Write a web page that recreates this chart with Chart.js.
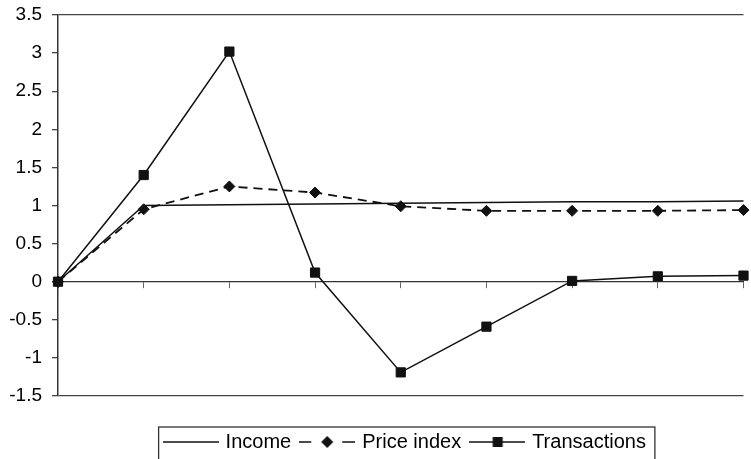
<!DOCTYPE html>
<html>
<head>
<meta charset="utf-8">
<script src="https://cdn.jsdelivr.net/npm/chart.js@4"></script>
<style>
  html, body { margin: 0; padding: 0; background: #fff; }
</style>
</head>
<body>
<canvas id="chart" width="751" height="459"></canvas>
<script>
// periods after the shock (no labels shown on the axis)
const periods = ['0', '1', '2', '3', '4', '5', '6', '7', '8'];
const income = [0, 1.0, 1.01, 1.02, 1.03, 1.04, 1.05, 1.05, 1.06];
const priceIndex = [0, 0.95, 1.25, 1.17, 0.99, 0.93, 0.93, 0.93, 0.94];
const transactions = [0, 1.4, 3.02, 0.12, -1.19, -0.59, 0.01, 0.07, 0.08];
const yTicks = [-1.5, -1, -0.5, 0, 0.5, 1, 1.5, 2, 2.5, 3, 3.5];

const ink = '#111';
const fontFamily = '"Liberation Sans", Arial, sans-serif';

// little line+marker pictures for the legend
function legendSymbol(kind) {
    const c = document.createElement('canvas');
    c.width = 56;
    c.height = 14;
    const g = c.getContext('2d');
    g.strokeStyle = ink;
    g.fillStyle = ink;
    g.lineWidth = 1.5;
    const y = 7;
    g.beginPath();
    if (kind === 'price') {
        g.moveTo(0, y); g.lineTo(12, y);
        g.moveTo(43, y); g.lineTo(56, y);
    } else {
        g.moveTo(0, y); g.lineTo(56, y);
    }
    g.stroke();
    if (kind === 'price') {
        g.beginPath();
        g.moveTo(28, y - 6); g.lineTo(34, y); g.lineTo(28, y + 6); g.lineTo(22, y);
        g.closePath();
        g.fill();
    }
    if (kind === 'trans') {
        g.fillRect(23.5, y - 5, 10, 10);
    }
    return c;
}

const symbols = [legendSymbol('income'), legendSymbol('price'), legendSymbol('trans')];

const legendFrame = {
    id: 'legendFrame',
    afterLayout(chart) {
        // the legend sits a little right of centre in the original
        if (chart.legend) {
            chart.legend.left += 5;
            chart.legend.right += 5;
        }
    },
    afterDraw(chart) {
        const boxes = chart.legend && chart.legend.legendHitBoxes;
        if (!boxes || !boxes.length) return;
        const first = boxes[0];
        const last = boxes[boxes.length - 1];
        const ctx = chart.ctx;
        const left = first.left - 7;
        const right = last.left + last.width + 9;
        const top = first.top - 5;
        const bottom = first.top + first.height + 9;
        ctx.save();
        ctx.strokeStyle = '#333';
        ctx.lineWidth = 1.3;
        ctx.strokeRect(left, top, right - left, bottom - top);
        ctx.restore();
    }
};

new Chart(document.getElementById('chart'), {
    type: 'line',
    data: {
        labels: periods,
        datasets: [{
            label: 'Income',
            data: income,
            borderColor: ink,
            borderWidth: 1.5,
            pointRadius: 0,
            tension: 0
        }, {
            label: 'Price index',
            data: priceIndex,
            borderColor: ink,
            borderWidth: 1.8,
            borderDash: [9, 6],
            pointStyle: 'rectRot',
            pointRadius: 5.5,
            pointBackgroundColor: ink,
            pointBorderColor: ink,
            pointBorderWidth: 1,
            tension: 0
        }, {
            label: 'Transactions',
            data: transactions,
            borderColor: ink,
            borderWidth: 1.5,
            pointStyle: 'rect',
            pointRadius: 6.5,
            pointBackgroundColor: ink,
            pointBorderColor: ink,
            pointBorderWidth: 1,
            tension: 0
        }]
    },
    options: {
        responsive: false,
        animation: false,
        layout: { padding: { top: 15, right: 0, bottom: -3, left: 0 } },
        plugins: {
            tooltip: { enabled: false },
            legend: {
                position: 'bottom',
                fullSize: false,
                align: 'center',
                labels: {
                    usePointStyle: true,
                    pointStyleWidth: 50,
                    padding: 11,
                    color: '#000',
                    font: { family: fontFamily, size: 20 },
                    generateLabels: chart => chart.data.datasets.map((ds, i) => ({
                        text: ds.label,
                        pointStyle: symbols[i],
                        fillStyle: ink,
                        strokeStyle: ink,
                        lineWidth: 0,
                        fontColor: '#000',
                        hidden: false,
                        datasetIndex: i
                    }))
                }
            }
        },
        scales: {
            x: {
                type: 'category',
                position: { y: 0 },
                offset: false,
                ticks: { display: false },
                grid: { display: true, drawOnChartArea: false, drawTicks: true, tickLength: 6, color: '#666', lineWidth: 1 },
                border: { display: true, color: '#333', width: 1.2 }
            },
            xb: {
                type: 'category',
                position: 'bottom',
                ticks: { display: false },
                grid: { display: false },
                border: { display: false },
                afterFit: s => { s.height = 25; }
            },
            y: {
                min: yTicks[0],
                max: yTicks[yTicks.length - 1],
                afterBuildTicks: s => { s.ticks = yTicks.map(v => ({ value: v })); },
                ticks: {
                    color: '#000',
                    padding: 10,
                    font: { family: fontFamily, size: 19 },
                    callback: v => String(v)
                },
                grid: {
                    drawOnChartArea: true,
                    drawTicks: true,
                    tickLength: 6,
                    tickColor: '#444',
                    lineWidth: 1.3,
                    color: c => (c.tick && (c.tick.value === yTicks[0] || c.tick.value === yTicks[yTicks.length - 1])) ? '#444' : 'rgba(0,0,0,0)'
                },
                border: { display: true, color: '#333', width: 1.5 },
                afterFit: s => {
                    s.width = 58;
                    s.paddingTop = 0;
                    s.paddingBottom = 0;
                }
            }
        }
    },
    plugins: [legendFrame]
});
</script>
</body>
</html>
